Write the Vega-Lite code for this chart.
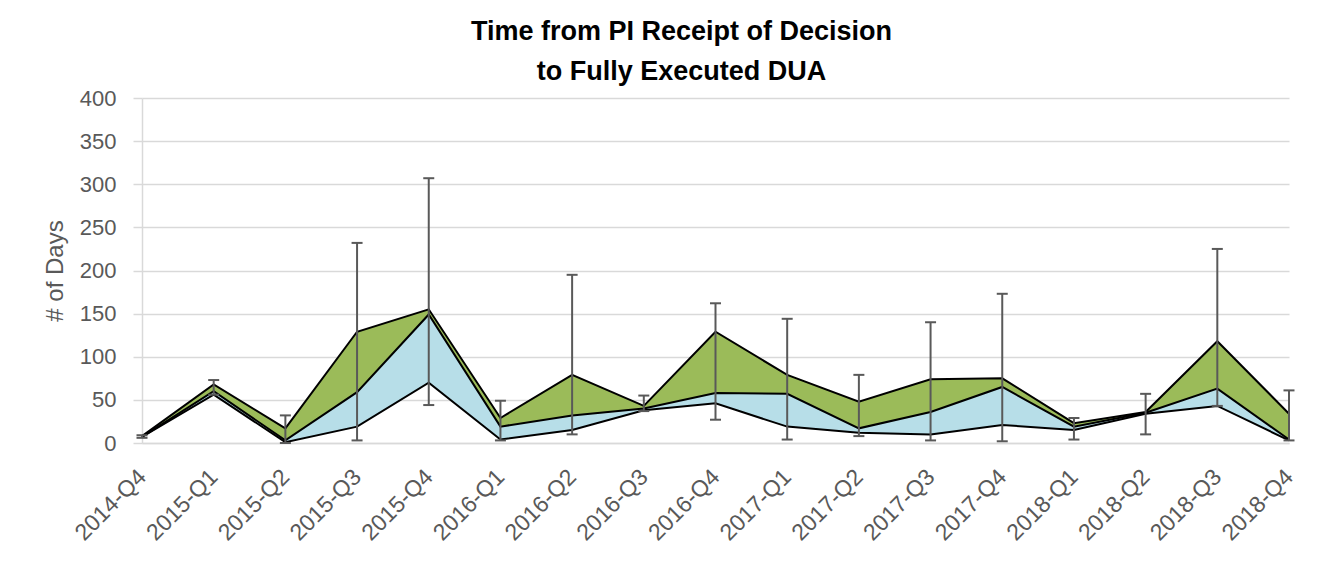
{
  "$schema": "https://vega.github.io/schema/vega-lite/v6.json",
  "autosize": {"type": "none"},
  "padding": {"left": 142, "top": 98, "right": 47, "bottom": 127},
  "width": 1147,
  "height": 345,
  "background": "white",
  "title": {
    "text": ["Time from PI Receipt of Decision", "to Fully Executed DUA"],
    "font": "Liberation Sans",
    "fontSize": 27,
    "fontWeight": "bold",
    "color": "#000000",
    "anchor": "middle",
    "lineHeight": 40,
    "offset": 1,
    "dx": -34
  },
  "data": {
    "values": [
      {"q": "2014-Q4", "min": 6, "q1": 7, "med": 7, "q3": 8, "max": 9},
      {"q": "2015-Q1", "min": 56, "q1": 56, "med": 60, "q3": 68, "max": 73},
      {"q": "2015-Q2", "min": 0, "q1": 1, "med": 3, "q3": 17, "max": 32},
      {"q": "2015-Q3", "min": 3, "q1": 19, "med": 59, "q3": 129, "max": 232},
      {"q": "2015-Q4", "min": 44, "q1": 70, "med": 149, "q3": 155, "max": 307},
      {"q": "2016-Q1", "min": 3, "q1": 4, "med": 19, "q3": 29, "max": 49},
      {"q": "2016-Q2", "min": 10, "q1": 15, "med": 32, "q3": 79, "max": 195},
      {"q": "2016-Q3", "min": 37, "q1": 38, "med": 40, "q3": 43, "max": 55},
      {"q": "2016-Q4", "min": 27, "q1": 46, "med": 58, "q3": 129, "max": 162},
      {"q": "2017-Q1", "min": 4, "q1": 19, "med": 57, "q3": 79, "max": 144},
      {"q": "2017-Q2", "min": 8, "q1": 12, "med": 17, "q3": 48, "max": 79},
      {"q": "2017-Q3", "min": 3, "q1": 10, "med": 36, "q3": 74, "max": 140},
      {"q": "2017-Q4", "min": 2, "q1": 21, "med": 65, "q3": 75, "max": 173},
      {"q": "2018-Q1", "min": 4, "q1": 15, "med": 19, "q3": 23, "max": 29},
      {"q": "2018-Q2", "min": 10, "q1": 34, "med": 35, "q3": 36, "max": 57},
      {"q": "2018-Q3", "min": 43, "q1": 43, "med": 63, "q3": 118, "max": 225},
      {"q": "2018-Q4", "min": 3, "q1": 3, "med": 4, "q3": 34, "max": 61}
    ]
  },
  "encoding": {
    "x": {
      "field": "q",
      "type": "ordinal",
      "sort": null,
      "scale": {"type": "point", "padding": 0},
      "axis": {
        "title": null,
        "labelAngle": -45,
        "labelAlign": "right",
        "labelBaseline": "middle",
        "labelPadding": 30,
        "labelFont": "Liberation Sans",
        "labelFontSize": 23,
        "labelColor": "#595959",
        "ticks": false,
        "domainColor": "#d9d9d9",
        "domainWidth": 1.5,
        "grid": false
      }
    }
  },
  "layer": [
    {
      "mark": {"type": "area", "color": "#B7DEE8", "opacity": 1},
      "encoding": {
        "y": {
          "field": "q1",
          "type": "quantitative",
          "scale": {"domain": [0, 400], "nice": false},
          "axis": {
            "title": "# of Days",
            "titleFont": "Liberation Sans",
            "titleFontSize": 24,
            "titleFontWeight": "normal",
            "titleColor": "#595959",
            "titlePadding": 12,
            "values": [0, 50, 100, 150, 200, 250, 300, 350, 400],
            "labelFont": "Liberation Sans",
            "labelFontSize": 22,
            "labelColor": "#595959",
            "labelPadding": 17,
            "tickSize": 9,
            "tickColor": "#d9d9d9",
            "tickWidth": 1.5,
            "domainColor": "#d9d9d9",
            "domainWidth": 1.5,
            "gridColor": "#d9d9d9",
            "gridWidth": 1.5
          }
        },
        "y2": {"field": "med"}
      }
    },
    {
      "mark": {"type": "area", "color": "#9BBB59", "opacity": 1},
      "encoding": {
        "y": {"field": "med", "type": "quantitative"},
        "y2": {"field": "q3"}
      }
    },
    {
      "mark": {"type": "line", "color": "#000000", "strokeWidth": 2},
      "encoding": {"y": {"field": "q1", "type": "quantitative"}}
    },
    {
      "mark": {"type": "line", "color": "#000000", "strokeWidth": 2},
      "encoding": {"y": {"field": "med", "type": "quantitative"}}
    },
    {
      "mark": {"type": "line", "color": "#000000", "strokeWidth": 2},
      "encoding": {"y": {"field": "q3", "type": "quantitative"}}
    },
    {
      "mark": {"type": "rule", "color": "#595959", "strokeWidth": 2},
      "encoding": {
        "y": {"field": "min", "type": "quantitative"},
        "y2": {"field": "max"}
      }
    },
    {
      "mark": {"type": "tick", "color": "#595959", "thickness": 2, "size": 11, "orient": "horizontal", "opacity": 1},
      "encoding": {"y": {"field": "min", "type": "quantitative"}}
    },
    {
      "mark": {"type": "tick", "color": "#595959", "thickness": 2, "size": 11, "orient": "horizontal", "opacity": 1},
      "encoding": {"y": {"field": "max", "type": "quantitative"}}
    }
  ],
  "config": {
    "view": {"stroke": null},
    "axis": {"labelFont": "Liberation Sans"}
  }
}
